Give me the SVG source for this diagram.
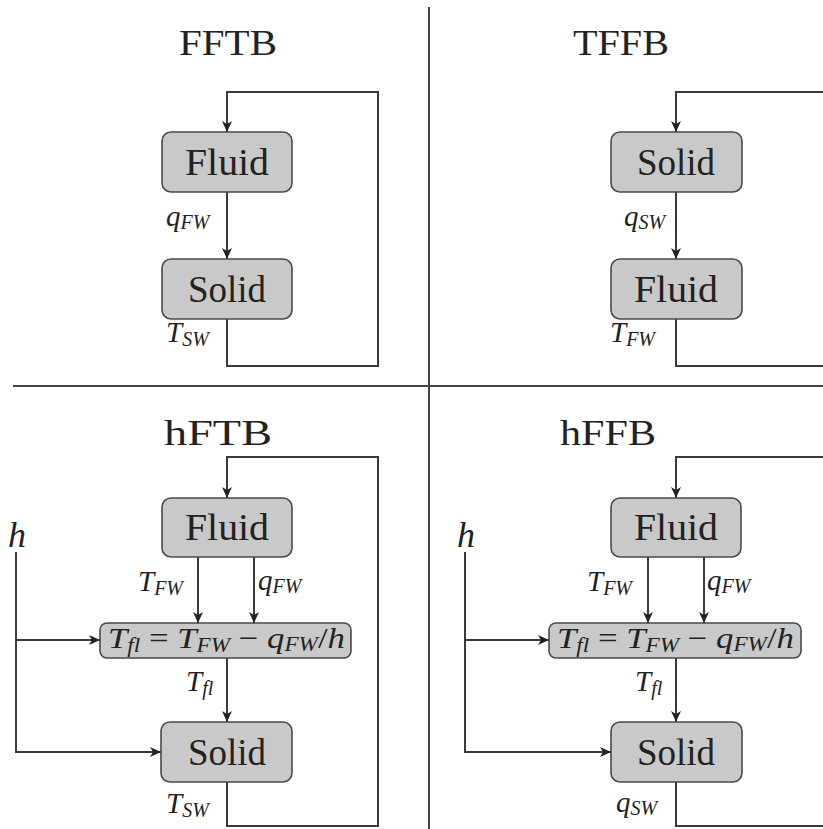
<svg xmlns="http://www.w3.org/2000/svg" width="823" height="829" viewBox="0 0 823 829">
<defs>
<marker id="arr" markerUnits="userSpaceOnUse" markerWidth="12" markerHeight="10" refX="11" refY="5" orient="auto">
<path d="M0,0 L11,5 L0,10 L3,5 z" fill="#222"/>
</marker>
<style>
.box{fill:#c9c9c9;stroke:#4a4a4a;stroke-width:1.6}
.ln{fill:none;stroke:#3a3a3a;stroke-width:2}
.div{fill:none;stroke:#444;stroke-width:2}
.title{font-family:"Liberation Serif","Times New Roman",serif;font-size:36px;fill:#222;text-anchor:middle}
.bt{font-family:"Liberation Serif","Times New Roman",serif;font-size:37px;fill:#222;text-anchor:middle}
.m{font-family:"Liberation Serif","Times New Roman",serif;font-style:italic;font-size:29px;fill:#222}
.s{font-size:20px}
.up{font-style:normal}
</style>
</defs>
<rect width="823" height="829" fill="#fff"/>
<g id="dividers">
<line class="div" x1="429" y1="7" x2="429" y2="829"/>
<line class="div" x1="13" y1="386" x2="823" y2="386"/>
</g>
<g id="titles">
<text class="title" x="228" y="55" textLength="98" lengthAdjust="spacingAndGlyphs">FFTB</text>
<text class="title" x="621" y="55" textLength="96" lengthAdjust="spacingAndGlyphs">TFFB</text>
<text class="title" x="218" y="445" textLength="108" lengthAdjust="spacingAndGlyphs">hFTB</text>
<text class="title" x="608" y="445" textLength="96" lengthAdjust="spacingAndGlyphs">hFFB</text>
</g>
<g id="connectors">
<path class="ln" d="M227,319 V366 H378 V92 H227 V132" marker-end="url(#arr)"/>
<path class="ln" d="M227,192 V259" marker-end="url(#arr)"/>
<path class="ln" d="M676,319 V366 H840 V92 H676 V132" marker-end="url(#arr)"/>
<path class="ln" d="M676,192 V259" marker-end="url(#arr)"/>
<path class="ln" d="M227,782 V826 H378 V457 H227 V498" marker-end="url(#arr)"/>
<path class="ln" d="M198,557 V623" marker-end="url(#arr)"/>
<path class="ln" d="M254,557 V623" marker-end="url(#arr)"/>
<path class="ln" d="M227,658 V722" marker-end="url(#arr)"/>
<path class="ln" d="M16,552 V752 H161" marker-end="url(#arr)"/>
<path class="ln" d="M16,640 H100" marker-end="url(#arr)"/>
<path class="ln" d="M676,782 V826 H840 V457 H676 V498" marker-end="url(#arr)"/>
<path class="ln" d="M648,557 V623" marker-end="url(#arr)"/>
<path class="ln" d="M704,557 V623" marker-end="url(#arr)"/>
<path class="ln" d="M676,658 V722" marker-end="url(#arr)"/>
<path class="ln" d="M465,552 V752 H611" marker-end="url(#arr)"/>
<path class="ln" d="M465,640 H549" marker-end="url(#arr)"/>
</g>
<g id="labels">
<text class="m" x="166" y="226">q<tspan class="s" dy="3">FW</tspan></text>
<text class="m" x="166" y="342">T<tspan class="s" dy="4">SW</tspan></text>
<text class="m" x="624" y="226">q<tspan class="s" dy="3">SW</tspan></text>
<text class="m" x="610" y="342">T<tspan class="s" dy="4">FW</tspan></text>
<text class="m" x="138" y="591">T<tspan class="s" dy="4">FW</tspan></text>
<text class="m" x="258" y="590">q<tspan class="s" dy="3">FW</tspan></text>
<text class="m" x="186" y="691">T<tspan class="s" dy="4">fl</tspan></text>
<text class="m" x="166" y="813">T<tspan class="s" dy="4">SW</tspan></text>
<text class="m" x="587" y="591">T<tspan class="s" dy="4">FW</tspan></text>
<text class="m" x="707" y="590">q<tspan class="s" dy="3">FW</tspan></text>
<text class="m" x="635" y="691">T<tspan class="s" dy="4">fl</tspan></text>
<text class="m" x="616" y="812">q<tspan class="s" dy="3">SW</tspan></text>
<text class="m" x="8" y="547" style="font-size:36px">h</text>
<text class="m" x="457" y="547" style="font-size:36px">h</text>
</g>
<g id="tl-fluid"><rect class="box" x="162" y="132" width="130" height="60" rx="9"/><text class="bt" x="227" y="175" textLength="84" lengthAdjust="spacingAndGlyphs">Fluid</text></g>
<g id="tl-solid"><rect class="box" x="162" y="259" width="130" height="60" rx="9"/><text class="bt" x="227" y="302">Solid</text></g>
<g id="tr-solid"><rect class="box" x="611" y="132" width="131" height="60" rx="9"/><text class="bt" x="676" y="175">Solid</text></g>
<g id="tr-fluid"><rect class="box" x="611" y="259" width="131" height="60" rx="9"/><text class="bt" x="676" y="302" textLength="84" lengthAdjust="spacingAndGlyphs">Fluid</text></g>
<g id="bl-fluid"><rect class="box" x="162" y="498" width="130" height="59" rx="9"/><text class="bt" x="227" y="540" textLength="84" lengthAdjust="spacingAndGlyphs">Fluid</text></g>
<g id="bl-formula"><rect class="box" x="100" y="623" width="251" height="35" rx="7"/><text class="m" x="108" y="648" style="font-size:30px" textLength="237" lengthAdjust="spacingAndGlyphs">T<tspan class="s" dy="4">fl</tspan><tspan class="up" dy="-4"> = </tspan>T<tspan class="s" dy="4">FW</tspan><tspan class="up" dy="-4"> − </tspan>q<tspan class="s" dy="3">FW</tspan><tspan class="up" dy="-3">/</tspan>h</text></g>
<g id="bl-solid"><rect class="box" x="161" y="722" width="131" height="60" rx="9"/><text class="bt" x="227" y="765">Solid</text></g>
<g id="br-fluid"><rect class="box" x="611" y="498" width="130" height="59" rx="9"/><text class="bt" x="676" y="540" textLength="84" lengthAdjust="spacingAndGlyphs">Fluid</text></g>
<g id="br-formula"><rect class="box" x="549" y="623" width="252" height="35" rx="7"/><text class="m" x="557" y="648" style="font-size:30px" textLength="237" lengthAdjust="spacingAndGlyphs">T<tspan class="s" dy="4">fl</tspan><tspan class="up" dy="-4"> = </tspan>T<tspan class="s" dy="4">FW</tspan><tspan class="up" dy="-4"> − </tspan>q<tspan class="s" dy="3">FW</tspan><tspan class="up" dy="-3">/</tspan>h</text></g>
<g id="br-solid"><rect class="box" x="611" y="722" width="131" height="60" rx="9"/><text class="bt" x="676" y="765">Solid</text></g>
</svg>
